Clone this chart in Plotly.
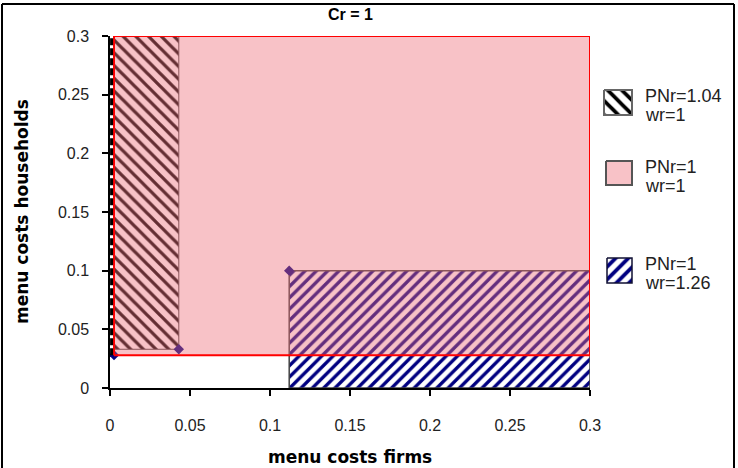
import plotly.graph_objects as go

# ---------------- data ----------------
# corner points of the regions: menu costs of firms / households
corner_firms = [0.0025, 0.043, 0.112]
corner_households = [0.028, 0.033, 0.1]
axis_max = 0.3
# black dashed boundary along the households axis
boundary_firms = [0.001, 0.001]
boundary_households = [0.028, 0.3]

tick_values = [0, 0.05, 0.1, 0.15, 0.2, 0.25, 0.3]
tick_labels = ["0", "0.05", "0.1", "0.15", "0.2", "0.25", "0.3"]

legend_line1 = ["PNr=1.04", "PNr=1", "PNr=1"]
legend_line2 = ["wr=1", "wr=1", "wr=1.26"]
title_text = "Cr = 1"
x_title = "menu costs firms"
y_title = "menu costs households"

# ---------------- layout helpers ----------------
W, H = 738, 468
ML, MR, MT, MB = 110, 8, 36, 80
PW = W - ML - MR
PH = H - MT - MB


def px_x(px):
    return (px - ML) / PW


def px_y(py):
    return (H - MB - py) / PH


def rect(x0, x1, y0, y1):
    return [x0, x1, x1, x0, x0], [y0, y0, y1, y1, y0]


PINK = "rgba(238,110,122,0.42)"
NAVY = "#000080"

fig = go.Figure()

# PNr=1, wr=1.26 region (navy hatch)
bx, by = rect(corner_firms[2], axis_max, 0, corner_households[2])
fig.add_trace(go.Scatter(
    x=bx, y=by, mode="lines", fill="toself",
    line=dict(color="#444444", width=1.5),
    fillpattern=dict(shape="/", fgcolor=NAVY, bgcolor="white", size=8, solidity=0.42, fillmode="replace"),
    hoverinfo="skip", showlegend=False))

# PNr=1.04, wr=1 region (black hatch)
kx, ky = rect(corner_firms[0], corner_firms[1], corner_households[1], axis_max)
fig.add_trace(go.Scatter(
    x=kx, y=ky, mode="lines", fill="toself",
    line=dict(color="#444444", width=1),
    fillpattern=dict(shape="\\", fgcolor="black", bgcolor="white", size=9, solidity=0.36, fillmode="replace"),
    hoverinfo="skip", showlegend=False))

# corner markers
fig.add_trace(go.Scatter(
    x=corner_firms, y=corner_households, mode="markers",
    marker=dict(symbol="diamond", size=8, color=NAVY),
    hoverinfo="skip", showlegend=False))

# PNr=1, wr=1 region (pink)
px_, py_ = rect(corner_firms[0], axis_max, corner_households[0], axis_max)
fig.add_trace(go.Scatter(
    x=px_, y=py_, mode="lines", fill="toself", fillcolor=PINK,
    line=dict(color="#ff0000", width=2),
    hoverinfo="skip", showlegend=False))

# dashed boundary on the households axis
fig.add_trace(go.Scatter(
    x=boundary_firms, y=boundary_households, mode="lines",
    line=dict(color="black", width=3, dash="7px,3px"),
    hoverinfo="skip", showlegend=False))

# ---------------- manual legend (own axes, pixel units) ----------------
LX0, LX1 = 596, 642
legend_boxes = [(604, 632, 90, 115), (606, 632, 161, 185), (607, 632, 258, 283)]
legend_styles = [
    dict(fillpattern=dict(shape="\\", fgcolor="black", bgcolor="white", size=10, solidity=0.38, fillmode="replace"),
         line=dict(color="#666666", width=2)),
    dict(fillcolor=PINK, line=dict(color="#555555", width=2)),
    dict(fillpattern=dict(shape="/", fgcolor=NAVY, bgcolor="white", size=9, solidity=0.42, fillmode="replace"),
         line=dict(color="#111133", width=1.5)),
]
legend_font = dict(family="Liberation Sans", size=18, color="#222222")
for (x0, x1, y0, y1), st, l1, l2 in zip(legend_boxes, legend_styles, legend_line1, legend_line2):
    lx, ly = rect(x0, x1, y0, y1)
    fig.add_trace(go.Scatter(x=lx, y=ly, mode="lines", fill="toself", xaxis="x2", yaxis="y2",
                             hoverinfo="skip", showlegend=False, **st))
    for txt, yy in ((l1, y0 + 6), (l2, y0 + 25)):
        fig.add_annotation(x=px_x(643), y=px_y(yy), xref="paper", yref="paper",
                           text=txt, showarrow=False, xanchor="left", yanchor="middle", align="left",
                           font=legend_font)

# title and axis titles
fig.add_annotation(x=px_x(350), y=px_y(14), xref="paper", yref="paper", text="<b>" + title_text + "</b>",
                   showarrow=False, xanchor="center", yanchor="middle",
                   font=dict(family="Liberation Sans", size=16, color="black"))
fig.add_annotation(x=px_x(350), y=px_y(457), xref="paper", yref="paper", text="<b>" + x_title + "</b>",
                   showarrow=False, xanchor="center", yanchor="middle",
                   font=dict(family="DejaVu Sans", size=17, color="black"))
fig.add_annotation(x=px_x(22), y=px_y(212), xref="paper", yref="paper", text="<b>" + y_title + "</b>",
                   showarrow=False, xanchor="center", yanchor="middle", textangle=-90,
                   font=dict(family="DejaVu Sans", size=17, color="black"))

# outer frame
frame = dict(type="line", xref="paper", yref="paper", line=dict(color="black", width=2))
fig.add_shape(x0=px_x(2), x1=px_x(2), y0=px_y(4), y1=px_y(H), **frame)
fig.add_shape(x0=px_x(2), x1=px_x(734), y0=px_y(4), y1=px_y(4), **frame)
fig.add_shape(x0=px_x(734), x1=px_x(734), y0=px_y(4), y1=px_y(H), **frame)

tickfont = dict(family="Liberation Sans", size=16, color="#222222")
fig.update_layout(
    template="none",
    width=W, height=H, autosize=False,
    margin=dict(l=ML, r=MR, t=MT, b=MB, pad=0, autoexpand=False),
    paper_bgcolor="white", plot_bgcolor="rgba(0,0,0,0)",
    showlegend=False,
    xaxis=dict(domain=[0, px_x(590)], range=[0, axis_max], tickvals=tick_values, ticktext=tick_labels,
               showline=True, linecolor="black", linewidth=2, ticks="outside", ticklen=6, tickwidth=1.5,
               tickcolor="black", showgrid=False, zeroline=False, tickfont=tickfont, automargin=False,
               ticklabelstandoff=16, fixedrange=True),
    yaxis=dict(domain=[0, 1], range=[0, axis_max], tickvals=tick_values, ticktext=tick_labels,
               showline=True, linecolor="black", linewidth=1.5, ticks="outside", ticklen=6, tickwidth=1.5,
               tickcolor="black", showgrid=False, zeroline=False, tickfont=tickfont, automargin=False,
               ticklabelstandoff=10, fixedrange=True),
    xaxis2=dict(domain=[px_x(LX0), px_x(LX1)], range=[LX0, LX1], anchor="y2", visible=False,
                automargin=False, fixedrange=True),
    yaxis2=dict(domain=[0, 1], range=[H - MB, MT], anchor="x2", visible=False,
                automargin=False, fixedrange=True),
)

fig.write_html("out.html", config={"responsive": False, "displayModeBar": False})
